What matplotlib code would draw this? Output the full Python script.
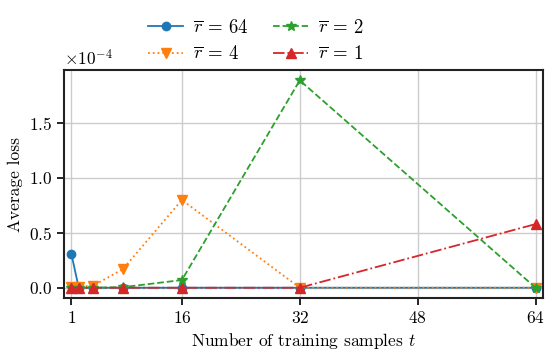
import matplotlib
matplotlib.use("Agg")
import matplotlib.pyplot as plt

plt.rcParams['font.family'] = 'serif'
plt.rcParams['font.serif'] = ['cmr10']
plt.rcParams['mathtext.fontset'] = 'cm'
plt.rcParams['axes.formatter.use_mathtext'] = True
plt.rcParams['font.size'] = 12.5

x = [1, 2, 4, 8, 16, 32, 64]
loss_r64 = [0.31e-4, 0, 0, 0, 0, 0, 0]
loss_r4 = [0.01e-4, 0.01e-4, 0.02e-4, 0.17e-4, 0.80e-4, 0, 0]
loss_r2 = [0, 0, 0, 0.005e-4, 0.07e-4, 1.89e-4, 0]
loss_r1 = [0, 0, 0, 0, 0, 0, 0.58e-4]
xticks = [1, 16, 32, 48, 64]

fig = plt.figure(figsize=(5.54, 3.57), dpi=100)
ax = fig.add_axes([0.1155, 0.165, 0.8645, 0.639])

h1, = ax.plot(x, loss_r64, '-', marker='o', color='#1f77b4', lw=1.3, ms=6, label=r'$\overline{r}\,=\,64$')
h2, = ax.plot(x, loss_r4, ':', marker='v', color='#ff7f0e', lw=1.3, ms=7, label=r'$\overline{r}\,=\,4$')
h3, = ax.plot(x, loss_r2, '--', marker='*', color='#2ca02c', lw=1.3, ms=7, label=r'$\overline{r}\,=\,2$')
h4, = ax.plot(x, loss_r1, '-.', marker='^', color='#d62728', lw=1.3, ms=7, label=r'$\overline{r}\,=\,1$')

ax.set_xlim(0, 65)
ax.set_xticks(xticks)
ax.grid(True, color='#cccccc', lw=1)
ax.set_axisbelow(True)
for s in ax.spines.values():
    s.set_linewidth(1.5)
    s.set_color('#222222')
ax.tick_params(direction='out', length=5, width=1.2, labelsize=12.5)
ax.ticklabel_format(axis='y', style='sci', scilimits=(0, 0))
ax.yaxis.get_offset_text().set_fontsize(12.5)
ax.set_xlabel(r'Number of training samples $t$', fontsize=12.5)
ax.set_ylabel('Average loss', fontsize=12.5)

fig.legend(handles=[h1, h2, h3, h4], ncol=2, loc='upper center',
           bbox_to_anchor=(0.462, 0.995), frameon=False, columnspacing=1.3,
           handlelength=1.87, handletextpad=0.55, labelspacing=0.45, fontsize=13.5)

fig.savefig('out.png', dpi=100)
